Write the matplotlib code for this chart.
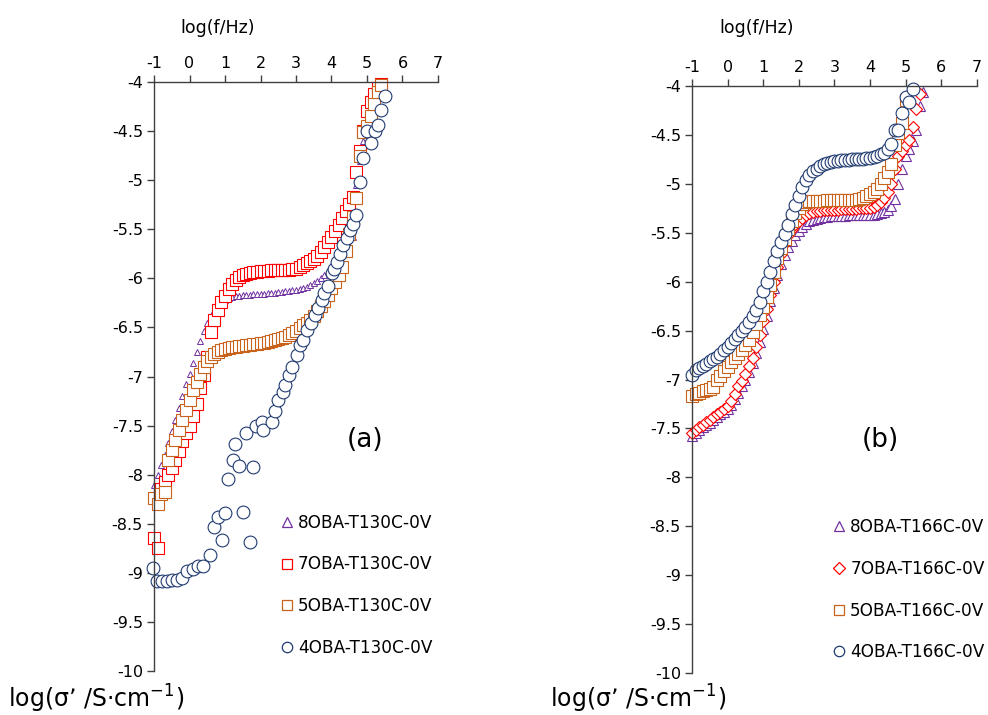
import matplotlib
matplotlib.use("Agg")
import matplotlib.pyplot as plt
from matplotlib.lines import Line2D
from matplotlib.ticker import FuncFormatter, MultipleLocator

plt.rcParams['font.family'] = ['DejaVu Sans']
plt.rcParams['axes.unicode_minus'] = False

# shared frequency grid, log(f/Hz)
logf = [-1.0, -0.9, -0.8, -0.7, -0.6, -0.5, -0.4, -0.3, -0.2, -0.1,
        0.0, 0.1, 0.2, 0.3, 0.4, 0.5, 0.6, 0.7, 0.8, 0.9,
        1.0, 1.1, 1.2, 1.3, 1.4, 1.5, 1.6, 1.7, 1.8, 1.9,
        2.0, 2.1, 2.2, 2.3, 2.4, 2.5, 2.6, 2.7, 2.8, 2.9,
        3.0, 3.1, 3.2, 3.3, 3.4, 3.5, 3.6, 3.7, 3.8, 3.9,
        4.0, 4.1, 4.2, 4.3, 4.4, 4.5, 4.6, 4.7, 4.8, 4.9,
        5.0, 5.1, 5.2, 5.3, 5.4, 5.5]

# (a) T = 130 C
a_8oba = [-8.10, -8.00, -7.90, -7.80, -7.68, -7.56, -7.44, -7.32, -7.20, -7.08,
          -6.97, -6.86, -6.75, -6.64, -6.54, -6.45, -6.38, -6.32, -6.27, -6.24,
          -6.22, -6.20, -6.19, -6.18, -6.18, -6.17, -6.17, -6.17, -6.16, -6.16,
          -6.16, -6.16, -6.15, -6.15, -6.15, -6.14, -6.14, -6.13, -6.13, -6.12,
          -6.12, -6.11, -6.10, -6.09, -6.07, -6.05, -6.03, -6.00, -5.97, -5.93,
          -5.89, -5.85, -5.81, -5.76, -5.71, -5.66, -5.58, -5.05, -4.80, -4.60,
          -4.45, -4.33, -4.22, -4.10, -4.00]
a_7oba = [-8.65, -8.75, -8.15, -8.07, -8.00, -7.93, -7.85, -7.76, -7.66, -7.58,
          -7.50, -7.40, -7.28, -7.12, -6.98, -6.80, -6.55, -6.42, -6.32, -6.24,
          -6.18, -6.11, -6.06, -6.02, -5.99, -5.97, -5.96, -5.95, -5.94, -5.94,
          -5.93, -5.93, -5.93, -5.92, -5.92, -5.92, -5.91, -5.91, -5.91, -5.90,
          -5.90, -5.88, -5.86, -5.84, -5.82, -5.80, -5.77, -5.73, -5.68, -5.63,
          -5.58, -5.52, -5.46, -5.39, -5.31, -5.24, -5.17, -4.92, -4.70, -4.50,
          -4.30, -4.20, -4.12, -4.06, -4.02]
a_5oba = [-8.24, -8.30, -8.20, -8.18, -7.85, -7.75, -7.65, -7.54, -7.44, -7.34,
          -7.24, -7.14, -7.06, -6.97, -6.90, -6.84, -6.80, -6.77, -6.75, -6.73,
          -6.72, -6.71, -6.70, -6.70, -6.69, -6.69, -6.68, -6.68, -6.67, -6.67,
          -6.66, -6.66, -6.65, -6.64, -6.63, -6.62, -6.61, -6.60, -6.58, -6.56,
          -6.54, -6.51, -6.48, -6.45, -6.42, -6.38, -6.33, -6.28, -6.23, -6.17,
          -6.10, -6.04, -5.97, -5.88, -5.72, -5.55, -5.38, -5.18, -4.75, -4.51,
          -4.45, -4.35, -4.22, -4.10, -4.03]
a_4oba_f = [-1.02, -0.92, -0.78, -0.64, -0.50, -0.36, -0.22, -0.08,
            0.11, 0.25, 0.39, 0.58, 0.70, 0.81, 0.91, 1.00, 1.07,
            1.22, 1.28, 1.40, 1.50, 1.59, 1.70, 1.80, 1.87,
            2.03, 2.08, 2.31, 2.41, 2.50, 2.62, 2.69, 2.80, 2.90,
            3.02, 3.11, 3.21, 3.30, 3.41, 3.54, 3.63, 3.72, 3.80, 3.91,
            4.01, 4.08, 4.15, 4.24, 4.33, 4.43, 4.52, 4.61, 4.69, 4.80, 4.90, 4.99,
            5.10, 5.23, 5.32, 5.39, 5.51]
a_4oba = [-8.95, -9.08, -9.08, -9.08, -9.07, -9.07, -9.05, -8.98,
          -8.96, -8.93, -8.93, -8.82, -8.53, -8.43, -8.67, -8.39, -8.04,
          -7.85, -7.69, -7.91, -8.38, -7.58, -8.69, -7.92, -7.50,
          -7.46, -7.54, -7.46, -7.35, -7.24, -7.16, -7.09, -6.98, -6.90,
          -6.78, -6.68, -6.63, -6.53, -6.45, -6.37, -6.30, -6.22, -6.15, -6.08,
          -5.95, -5.90, -5.83, -5.75, -5.66, -5.59, -5.51, -5.45, -5.35, -5.02, -4.77, -4.50,
          -4.62, -4.50, -4.44, -4.29, -4.14]

# (b) T = 166 C
b_8oba = [-7.58, -7.55, -7.52, -7.49, -7.46, -7.44, -7.41, -7.38, -7.35, -7.33,
          -7.30, -7.26, -7.20, -7.14, -7.07, -7.00, -6.92, -6.83, -6.73, -6.62,
          -6.48, -6.35, -6.20, -6.06, -5.93, -5.82, -5.73, -5.65, -5.58, -5.52,
          -5.48, -5.44, -5.41, -5.38, -5.37, -5.36, -5.35, -5.34, -5.34, -5.33,
          -5.33, -5.33, -5.33, -5.33, -5.32, -5.32, -5.32, -5.32, -5.32, -5.32,
          -5.32, -5.32, -5.31, -5.30, -5.29, -5.27, -5.23, -5.15, -5.00, -4.85,
          -4.72, -4.64, -4.56, -4.45, -4.20, -4.06]
b_7oba = [-7.55, -7.52, -7.49, -7.46, -7.43, -7.41, -7.38, -7.35, -7.33, -7.30,
          -7.27, -7.22, -7.15, -7.07, -7.02, -6.94, -6.86, -6.78, -6.67, -6.55,
          -6.40, -6.28, -6.14, -6.00, -5.85, -5.72, -5.60, -5.52, -5.46, -5.41,
          -5.38, -5.35, -5.32, -5.30, -5.29, -5.28, -5.28, -5.27, -5.27, -5.27,
          -5.27, -5.27, -5.26, -5.26, -5.26, -5.26, -5.26, -5.25, -5.25, -5.25,
          -5.25, -5.24, -5.22, -5.19, -5.14, -5.08, -5.00, -4.85, -4.72, -4.66,
          -4.60, -4.55, -4.42, -4.24, -4.08]
b_5oba = [-7.17, -7.15, -7.14, -7.12, -7.11, -7.10, -7.08, -7.00, -6.96, -6.91,
          -6.87, -6.82, -6.78, -6.74, -6.70, -6.65, -6.60, -6.51, -6.43, -6.34,
          -6.26, -6.16, -6.03, -5.90, -5.76, -5.66, -5.56, -5.46, -5.38, -5.30,
          -5.25, -5.21, -5.19, -5.18, -5.18, -5.18, -5.18, -5.18, -5.17, -5.17,
          -5.17, -5.17, -5.17, -5.16, -5.16, -5.16, -5.16, -5.15, -5.14, -5.12,
          -5.10, -5.08, -5.05, -5.00, -4.94, -4.88, -4.80, -4.60, -4.48, -4.38,
          -4.14]
b_4oba = [-6.95, -6.90, -6.88, -6.86, -6.84, -6.81, -6.79, -6.77, -6.74, -6.70,
          -6.67, -6.63, -6.59, -6.55, -6.50, -6.46, -6.41, -6.35, -6.29, -6.21,
          -6.10, -6.00, -5.90, -5.79, -5.69, -5.59, -5.51, -5.42, -5.31, -5.22,
          -5.12, -5.03, -4.96, -4.91, -4.87, -4.85, -4.82, -4.80, -4.79, -4.78,
          -4.77, -4.77, -4.76, -4.76, -4.76, -4.75, -4.75, -4.75, -4.75, -4.74,
          -4.74, -4.73, -4.72, -4.70, -4.68, -4.64, -4.59, -4.45, -4.45, -4.28,
          -4.11, -4.16, -4.03]

labels_a = ["8OBA-T130C-0V", "7OBA-T130C-0V", "5OBA-T130C-0V", "4OBA-T130C-0V"]
labels_b = ["8OBA-T166C-0V", "7OBA-T166C-0V", "5OBA-T166C-0V", "4OBA-T166C-0V"]

PURPLE = "#7030A0"
RED = "#FF0000"
ORANGE = "#C9631C"
NAVY = "#1F3A70"
AXCOL = "#404040"

fig = plt.figure(figsize=(9.88, 7.15), dpi=100)
ax_a = fig.add_axes([0.1559, 0.0615, 0.2874, 0.8238])
ax_b = fig.add_axes([0.7004, 0.0587, 0.2882, 0.8210])


def style_axis(ax):
    ax.set_xlim(-1, 7)
    ax.set_ylim(-10, -4)
    ax.xaxis.tick_top()
    ax.xaxis.set_major_locator(MultipleLocator(1))
    ax.yaxis.set_major_locator(MultipleLocator(0.5))
    ax.xaxis.set_major_formatter(FuncFormatter(lambda v, p: f"{v:g}"))
    ax.yaxis.set_major_formatter(FuncFormatter(lambda v, p: f"{v:g}"))
    ax.spines['right'].set_visible(False)
    ax.spines['bottom'].set_visible(False)
    for s in ['top', 'left']:
        ax.spines[s].set_color(AXCOL)
        ax.spines[s].set_linewidth(1.0)
    ax.tick_params(axis='both', direction='out', length=5, width=1.0,
                   color=AXCOL, labelsize=11.5, pad=3)
    ax.patch.set_alpha(0)


def series(ax, x, y, marker, color, ms, mew=0.8):
    ax.plot(x, y, linestyle='none', marker=marker, markersize=ms,
            markerfacecolor='white', markeredgecolor=color,
            markeredgewidth=mew, clip_on=False)


def legend(ax, labels, styles, anchor):
    handles = [Line2D([], [], linestyle='none', marker=m, markersize=ms,
                      markerfacecolor='white', markeredgecolor=c,
                      markeredgewidth=0.9)
               for m, c, ms in styles]
    ax.legend(handles, labels, loc='upper left', bbox_to_anchor=anchor,
              frameon=False, fontsize=12.2, handlelength=0.7,
              handletextpad=0.3, labelspacing=1.4, borderpad=0,
              borderaxespad=0)


# panel (a)
series(ax_a, logf[:len(a_8oba)], a_8oba, '^', PURPLE, 4.5, 0.7)
series(ax_a, logf[:len(a_7oba)], a_7oba, 's', RED, 8.0)
series(ax_a, logf[:len(a_5oba)], a_5oba, 's', ORANGE, 8.0)
series(ax_a, a_4oba_f, a_4oba, 'o', NAVY, 9.2)
style_axis(ax_a)
legend(ax_a, labels_a,
       [('^', PURPLE, 7.5), ('s', RED, 7), ('s', ORANGE, 7), ('o', NAVY, 7.5)],
       (0.447, 0.267))
ax_a.text(0.743, 0.392, "(a)", transform=ax_a.transAxes, fontsize=19,
          ha='center', va='center')

# panel (b)
series(ax_b, logf[:len(b_8oba)], b_8oba, '^', PURPLE, 7.0)
series(ax_b, logf[:len(b_7oba)], b_7oba, 'D', RED, 6.2)
series(ax_b, logf[:len(b_5oba)], b_5oba, 's', ORANGE, 8.0)
series(ax_b, logf[:len(b_4oba)], b_4oba, 'o', NAVY, 9.2)
style_axis(ax_b)
legend(ax_b, labels_b,
       [('^', PURPLE, 7.5), ('D', RED, 6), ('s', ORANGE, 7), ('o', NAVY, 7.5)],
       (0.496, 0.264))
ax_b.text(0.660, 0.397, "(b)", transform=ax_b.transAxes, fontsize=19,
          ha='center', va='center')

# axis titles
fig.text(0.2206, 0.961, "log(f/Hz)", fontsize=12.5, ha='center', va='center')
fig.text(0.766, 0.961, "log(f/Hz)", fontsize=12.5, ha='center', va='center')
ylab = "log(σ’ /S·cm$^{-1}$)"
fig.text(0.008, 0.022, ylab, fontsize=17, ha='left', va='center')
fig.text(0.557, 0.022, ylab, fontsize=17, ha='left', va='center')

fig.savefig("out.png", dpi=100)
